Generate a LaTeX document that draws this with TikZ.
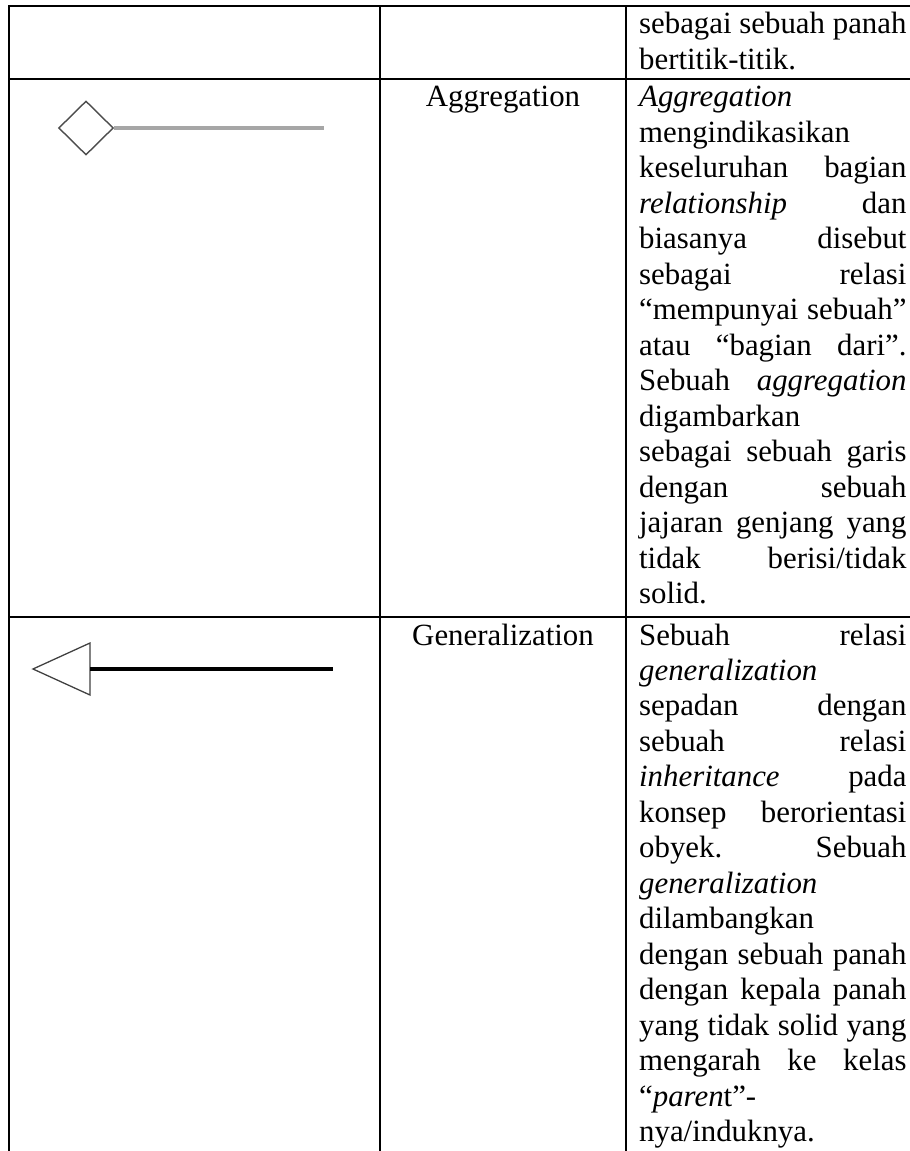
\documentclass[tikz,border=0pt]{standalone}
\usepackage{fontspec}
\setmainfont{Liberation Serif}
\usetikzlibrary{shapes.geometric}

\newlength{\descw}
\setlength{\descw}{104pt}
\newcommand{\jline}[1]{{\spaceskip=0pt\xspaceskip=0pt\makebox[\descw][s]{#1}}}
\newcommand{\lline}[1]{\makebox[\descw][l]{#1}}

\begin{document}
\begin{tikzpicture}[x=0.389pt, y=-0.389pt]

\tikzset{%
every node/.style={inner sep=0pt, font=\fontsize{12}{13.8}\selectfont\frenchspacing},%
every path/.style={line width=.9pt}%
}

\tikzstyle{tableline}=[black, line width=.9pt]
\tikzstyle{desc}=[anchor=base west, text width=\descw, align=justify]
\tikzstyle{relname}=[anchor=base]
\tikzstyle{aggshape}=[diamond, draw=black!70, line width=.55pt, minimum width=21.3pt, minimum height=21pt]
\tikzstyle{aggline}=[black!35, line width=1.2pt]
\tikzstyle{genhead}=[draw=black!75, line width=.5pt, line join=miter]
\tikzstyle{genline}=[black, line width=1.2pt]

\useasboundingbox (0,0) rectangle (910,1151);

\draw[tableline] (910,6) -- (9,6) -- (9,1151);
\draw[tableline] (9,79) -- (910,79);
\draw[tableline] (9,617) -- (910,617);
\draw[tableline] (380,6) -- (380,1151);
\draw[tableline] (626,6) -- (626,1151);

\node[desc] (dotdesc) at (638,34) {\jline{sebagai sebuah panah}\\
\lline{bertitik-titik.}};

\node[aggshape] (aggdiamond) at (86,128) {};
\coordinate (aggend) at (324,128);
\draw[aggline] (aggdiamond.east) -- (aggend);

\node[relname] (aggname) at (503,107) {Aggregation};
\node[desc] (aggdesc) at (638,107) {\lline{\textit{Aggregation}}\\
\lline{mengindikasikan}\\
\jline{keseluruhan bagian}\\
\jline{\textit{relationship} dan}\\
\jline{biasanya disebut}\\
\jline{sebagai relasi}\\
\jline{“mempunyai sebuah”}\\
\jline{atau “bagian dari”.}\\
\jline{Sebuah \textit{aggregation}}\\
\lline{digambarkan}\\
\jline{sebagai sebuah garis}\\
\jline{dengan sebuah}\\
\jline{jajaran genjang yang}\\
\jline{tidak berisi/tidak}\\
\lline{solid.}};

\coordinate (gentip) at (33,669);
\coordinate (genbase) at (90,669);
\coordinate (genend) at (333,669);
\draw[genhead] (gentip) -- (90,643) -- (90,695) -- cycle;
\draw[genline] (genbase) -- (genend);

\node[relname] (genname) at (503,645) {Generalization};
\node[desc] (gendesc) at (638,645) {\jline{Sebuah relasi}\\
\lline{\textit{generalization}}\\
\jline{sepadan dengan}\\
\jline{sebuah relasi}\\
\jline{\textit{inheritance} pada}\\
\jline{konsep berorientasi}\\
\jline{obyek. Sebuah}\\
\lline{\textit{generalization}}\\
\lline{dilambangkan}\\
\jline{dengan sebuah panah}\\
\jline{dengan kepala panah}\\
\jline{yang tidak solid yang}\\
\jline{mengarah ke kelas}\\
\lline{“\textit{paren}t”-}\\
\lline{nya/induknya.}};

\end{tikzpicture}
\end{document}
